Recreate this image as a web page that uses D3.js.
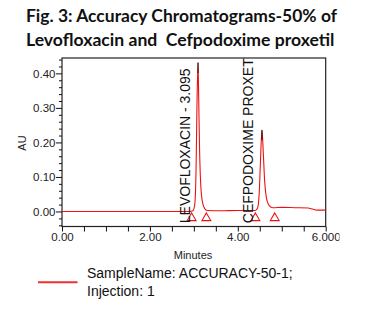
<!DOCTYPE html>
<html><head><meta charset="utf-8">
<script src="https://cdn.jsdelivr.net/npm/d3@7"></script>
<style>html,body{margin:0;padding:0;background:#fff;}svg{display:block;}</style>
</head><body>
<svg id="c" width="374" height="323"></svg>
<script>
// ---- data ----
const titleLines = ["Fig. 3: Accuracy Chromatograms-50% of", "Levofloxacin and  Cefpodoxime proxetil"];
const times  = [0, 0.5, 1.0, 1.5, 2.0, 2.5, 2.9, 2.98, 3.02, 3.05, 3.07, 3.095, 3.11, 3.13, 3.16, 3.2, 3.25, 3.3, 3.6, 4.0, 4.4, 4.45, 4.49, 4.52, 4.55, 4.58, 4.61, 4.65, 4.70, 4.75, 4.8, 5.0, 5.3, 5.6, 5.7, 5.8, 6.0];
const absorb = [0, 0, 0, 0, 0, 0, 0, 0.002, 0.02, 0.12, 0.30, 0.431, 0.33, 0.18, 0.07, 0.025, 0.008, 0.003, 0.002, 0.003, 0.003, 0.01, 0.06, 0.16, 0.236, 0.17, 0.09, 0.04, 0.02, 0.013, 0.011, 0.012, 0.011, 0.010, 0.007, 0.004, 0.004];
const peakNames   = ["LEVOFLOXACIN - 3.095", "CEFPODOXIME PROXET"];
const peakTimes   = [3.095, 4.55];
const peakHeights = [0.431, 0.236];
const labelTimes  = [2.91, 4.34];
const markerTimes = [2.95, 3.285, 4.40, 4.84];
const markerLevel = -0.019;
const xMajor = [0, 2, 4, 6];
const xLabels = ["0.00", "2.00", "4.00", "6.000"];
const xMinor = [0.5, 1, 1.5, 2.5, 3, 3.5, 4.5, 5, 5.5];
const yMajor = [0, 0.1, 0.2, 0.3, 0.4];
const yMinor = [-0.04, -0.02, 0.02, 0.04, 0.06, 0.08, 0.12, 0.14, 0.16, 0.18, 0.22, 0.24, 0.26, 0.28, 0.32, 0.34, 0.36, 0.38, 0.42, 0.44];
const xTitle = "Minutes", yTitle = "AU";
const legendLines = ["SampleName: ACCURACY-50-1;", "Injection: 1"];

// ---- drawing ----
const svg = d3.select("#c");
const L = 62, R = 325.7, T = 58, B = 226.5;
const x = d3.scaleLinear().domain([0, 6]).range([L, R]);
const y = d3.scaleLinear().domain([-0.0435, 0.4445]).range([B, T]);

// title
svg.selectAll("text.title").data(titleLines).enter().append("text")
  .attr("class", "title")
  .attr("x", 26).attr("y", (d, i) => 22 + i * 23.5)
  .attr("textLength", (d, i) => i === 0 ? 311 : 308.5)
  .attr("lengthAdjust", "spacingAndGlyphs")
  .style("font-family", "Lato, 'Open Sans', sans-serif")
  .style("font-weight", "bold").style("font-size", "16.5px").style("fill", "#111")
  .style("white-space", "pre")
  .text(d => d);

svg.append("clipPath").attr("id", "plotclip").append("rect")
  .attr("x", L).attr("y", T).attr("width", R - L).attr("height", B - T);
svg.append("clipPath").attr("id", "labclip").append("rect")
  .attr("x", 0).attr("y", 0).attr("width", 339.5).attr("height", 323);

// frame
svg.append("rect").attr("x", L).attr("y", T).attr("width", R - L).attr("height", B - T)
  .attr("fill", "none").attr("stroke", "#222").attr("stroke-width", 1.2);

// axes
const font = "Arial, 'Liberation Sans', sans-serif";
const yAxisMaj = d3.axisLeft(y).tickValues(yMajor).tickSize(6).tickPadding(0.5).tickFormat(d3.format(".2f"));
const yAxisMin = d3.axisLeft(y).tickValues(yMinor).tickSize(3).tickFormat("");
svg.append("g").attr("transform", `translate(${L},0)`).call(yAxisMaj);
svg.append("g").attr("transform", `translate(${L},0)`).call(yAxisMin);
const xAxisMaj = d3.axisBottom(x).tickValues(xMajor).tickSize(5).tickPadding(1.5).tickFormat((d, i) => xLabels[i]);
const xAxisMin = d3.axisBottom(x).tickValues(xMinor).tickSize(5).tickFormat("");
svg.append("g").attr("transform", `translate(0,${B})`).attr("clip-path", "url(#labclip)").call(xAxisMaj);
svg.append("g").attr("transform", `translate(0,${B})`).call(xAxisMin);
svg.selectAll(".domain").remove();
svg.selectAll(".tick line").attr("stroke", "#111");
svg.selectAll(".tick text").style("font-family", font).style("font-size", "11.5px").style("fill", "#222");

svg.append("text").attr("transform", "translate(22,143) rotate(-90)")
  .attr("text-anchor", "middle").attr("dominant-baseline", "central")
  .style("font-family", font).style("font-size", "11px").style("fill", "#222").text(yTitle);
svg.append("text").attr("x", 193).attr("y", 254.5)
  .attr("text-anchor", "middle").attr("dominant-baseline", "central")
  .style("font-family", font).style("font-size", "11px").style("fill", "#222").text(xTitle);

// chromatogram
const pts = times.map((t, i) => [t, absorb[i]]);
const line = d3.line().x(d => x(d[0])).y(d => y(d[1])).curve(d3.curveMonotoneX);
const plot = svg.append("g").attr("clip-path", "url(#plotclip)");
plot.append("path").datum(pts).attr("d", line)
  .attr("fill", "none").attr("stroke", "#f01010").attr("stroke-width", 1.1);

// apex markers
plot.selectAll("line.apex").data(peakTimes).enter().append("line")
  .attr("x1", d => x(d)).attr("x2", d => x(d))
  .attr("y1", (d, i) => y(peakHeights[i])).attr("y2", (d, i) => y(peakHeights[i] - 0.03))
  .attr("stroke", "#111").attr("stroke-width", 1);

// integration triangles
const tri = d3.symbol().type(d3.symbolTriangle).size(34);
plot.selectAll("path.tri").data(markerTimes).enter().append("path")
  .attr("d", tri)
  .attr("transform", d => `translate(${x(d)},${y(markerLevel)})`)
  .attr("fill", "none").attr("stroke", "#f01010").attr("stroke-width", 1.1);

// peak labels
plot.selectAll("text.peak").data(peakNames).enter().append("text")
  .attr("transform", (d, i) => `translate(${x(labelTimes[i])},${y(-0.034)}) rotate(-90)`)
  .style("font-family", font).style("font-size", "14px").style("fill", "#111")
  .text(d => d);

// legend
svg.append("line").attr("x1", 38).attr("x2", 77.5).attr("y1", 282.3).attr("y2", 282.3)
  .attr("stroke", "#f03030").attr("stroke-width", 2);
svg.selectAll("text.leg").data(legendLines).enter().append("text")
  .attr("x", 87).attr("y", (d, i) => 272.7 + i * 18).attr("dominant-baseline", "central")
  .style("font-family", font).style("font-size", "14px").style("fill", "#111")
  .text(d => d);
</script>
</body></html>
